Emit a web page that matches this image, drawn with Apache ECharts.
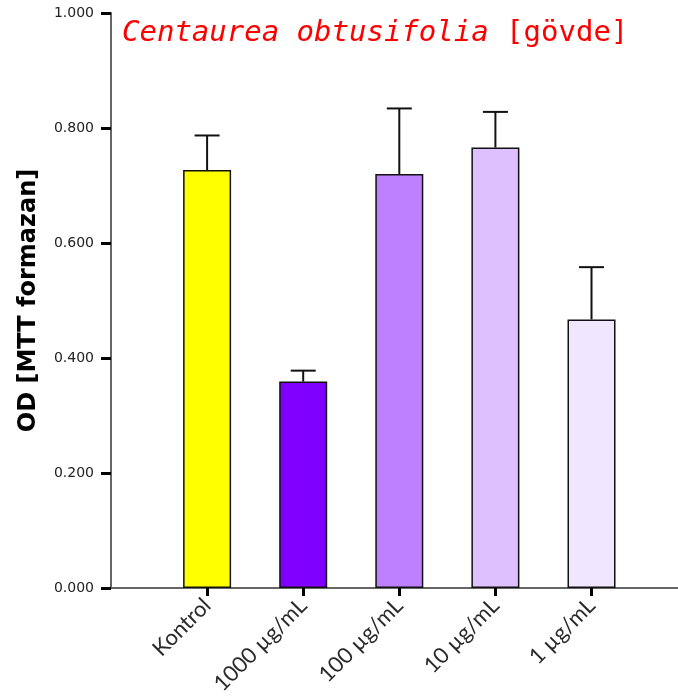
<!DOCTYPE html>
<html>
<head>
<meta charset="utf-8">
<script src="https://cdn.jsdelivr.net/npm/echarts@6/dist/echarts.min.js"></script>
<style>
  html, body { margin: 0; padding: 0; background: #fff; }
  #chart { width: 678px; height: 697px; }
</style>
</head>
<body>
<div id="chart"></div>
<script>
// data
let categories = ['Kontrol', '1000 µg/mL', '100 µg/mL', '10 µg/mL', '1 µg/mL'];
let means = [0.727, 0.359, 0.720, 0.766, 0.467];
let errors = [0.060, 0.019, 0.114, 0.062, 0.091];
let yTicks = [0, 0.2, 0.4, 0.6, 0.8, 1.0];

let barColors = ['#ffff00', '#8000ff', '#bf80ff', '#dfc0ff', '#f0e6ff'];

let positions = categories.map(function (c, i) { return i + 1; });

let chart = echarts.init(document.getElementById('chart'));

chart.setOption({
  animation: false,
  backgroundColor: '#fff',
  title: {
    left: 117,
    top: 14,
    text: '{a|Centaurea obtusifolia }{b|[gövde]}',
    textStyle: {
      fontWeight: 'normal',
      rich: {
        a: {
          fontFamily: 'DejaVu Sans Mono',
          fontStyle: 'italic',
          fontWeight: 'normal',
          fontSize: 29,
          color: '#ff0000'
        },
        b: {
          fontFamily: 'DejaVu Sans Mono',
          fontWeight: 'normal',
          fontSize: 29,
          color: '#ff0000'
        }
      }
    }
  },
  grid: {
    left: 111,
    right: 0,
    top: 13,
    bottom: 109,
    containLabel: false,
    outerBoundsMode: 'none'
  },
  xAxis: {
    type: 'value',
    min: 0,
    max: 5.9,
    splitLine: { show: false },
    axisLine: { lineStyle: { color: '#666', width: 2 } },
    axisTick: {
      customValues: positions,
      length: 8,
      lineStyle: { color: '#000', width: 3 }
    },
    axisLabel: {
      customValues: positions,
      rotate: 45,
      margin: 14,
      fontFamily: 'Lato',
      fontSize: 22,
      color: '#2a2a2a',
      formatter: function (v) { return categories[v - 1] || ''; }
    }
  },
  yAxis: {
    type: 'value',
    min: 0,
    max: 1,
    interval: 0.2,
    name: 'OD [MTT formazan]',
    nameLocation: 'middle',
    nameGap: 70,
    nameTextStyle: {
      fontFamily: 'DejaVu Sans',
      fontWeight: 'bold',
      fontSize: 24,
      color: '#000'
    },
    splitLine: { show: false },
    axisLine: { show: true, lineStyle: { color: '#666', width: 2 } },
    axisTick: {
      show: true,
      length: 10,
      lineStyle: { color: '#000', width: 3 }
    },
    axisLabel: {
      margin: 17,
      fontFamily: 'DejaVu Sans',
      fontSize: 14,
      color: '#222',
      formatter: function (v) { return v.toFixed(3); }
    }
  },
  series: [
    {
      type: 'bar',
      barWidth: 48,
      data: means.map(function (m, i) {
        return {
          value: [positions[i], m],
          itemStyle: {
            color: barColors[i],
            borderColor: '#111',
            borderWidth: 1.5
          }
        };
      })
    },
    {
      type: 'custom',
      data: means.map(function (m, i) { return [positions[i], m, m + errors[i]]; }),
      renderItem: function (params, api) {
        let base = api.coord([api.value(0), api.value(1)]);
        let top = api.coord([api.value(0), api.value(2)]);
        let half = 12.5;
        let style = { stroke: '#111', lineWidth: 2, fill: null };
        return {
          type: 'group',
          children: [
            { type: 'line', shape: { x1: base[0], y1: base[1], x2: top[0], y2: top[1] }, style: style },
            { type: 'line', shape: { x1: top[0] - half, y1: top[1], x2: top[0] + half, y2: top[1] }, style: style }
          ]
        };
      },
      z: 1
    }
  ]
});
</script>
</body>
</html>
